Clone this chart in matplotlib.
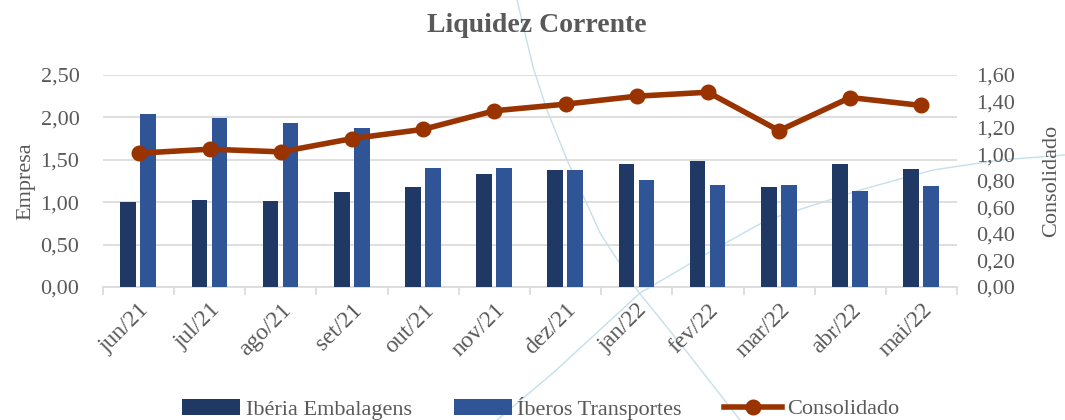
import matplotlib
matplotlib.use("Agg")
import matplotlib.pyplot as plt
import numpy as np
from matplotlib.ticker import FuncFormatter, MultipleLocator
from matplotlib.lines import Line2D

categories = ["jun/21", "jul/21", "ago/21", "set/21", "out/21", "nov/21",
              "dez/21", "jan/22", "fev/22", "mar/22", "abr/22", "mai/22"]
iberia = [1.00, 1.03, 1.01, 1.12, 1.18, 1.33, 1.38, 1.45, 1.49, 1.18, 1.45, 1.39]
iberos = [2.04, 1.99, 1.93, 1.87, 1.40, 1.40, 1.38, 1.26, 1.20, 1.20, 1.13, 1.19]
consolidado = [1.01, 1.04, 1.02, 1.12, 1.19, 1.33, 1.38, 1.44, 1.47, 1.18, 1.43, 1.37]

plt.rcParams['font.family'] = ['Liberation Serif', 'DejaVu Serif']
GRAY = "#595959"
C_IB = "#203864"
C_IBO = "#2F5597"
C_CON = "#993300"

fig = plt.figure(figsize=(10.65, 4.2), dpi=100)

# decorative background curves (slide artwork)
def deco(pts):
    pts = np.array(pts, dtype=float)
    t = np.linspace(0, 1, len(pts))
    tt = np.linspace(0, 1, 200)
    xs = np.interp(tt, t, pts[:, 0]); ys = np.interp(tt, t, pts[:, 1])
    fig.add_artist(Line2D(xs / 1065, 1 - ys / 420, transform=fig.transFigure,
                          color="#c5e0ea", lw=1.0, zorder=0))
deco([(517, 0), (533, 67), (547, 110), (567, 160), (600, 233), (637, 290), (683, 347), (740, 420)])
deco([(497, 420), (553, 373), (640, 293), (713, 250), (767, 220), (860, 190), (933, 170), (1000, 160), (1065, 155)])

ax = fig.add_axes([103 / 1065, 1 - 287 / 420, (957 - 103) / 1065, (287 - 75) / 420])
ax.patch.set_alpha(0)
x = np.arange(len(categories))
w = 0.22
b1 = ax.bar(x - 0.145, iberia, w, color=C_IB, label="Ibéria Embalagens", zorder=3)
b2 = ax.bar(x + 0.135, iberos, w, color=C_IBO, label="Íberos Transportes", zorder=3)
ax.set_xlim(-0.5, len(categories) - 0.5)
ax.set_ylim(0, 2.5)
ax.yaxis.set_major_locator(MultipleLocator(0.5))
fmt = FuncFormatter(lambda v, p: f"{v:.2f}".replace(".", ","))
ax.yaxis.set_major_formatter(fmt)
ax.grid(axis="y", color="#d9d9d9", lw=1.2, zorder=0)
for s in ["top", "left", "right"]:
    ax.spines[s].set_visible(False)
ax.spines["bottom"].set_color("#d9d9d9")
ax.spines["bottom"].set_linewidth(1.2)
ax.tick_params(axis="y", length=0, labelsize=16, labelcolor=GRAY, pad=17)
ax.set_xticks(x)
ax.set_xticklabels(categories, rotation=45, ha="right", rotation_mode="anchor",
                   fontsize=17, color=GRAY)
ax.tick_params(axis="x", length=0, pad=9)
ax.set_xticks(np.arange(-0.5, len(categories), 1), minor=True)
ax.tick_params(axis="x", which="minor", length=6, color="#d9d9d9", width=1.2)
ax.set_ylabel("Empresa", fontsize=16, color=GRAY, labelpad=4)

ax2 = ax.twinx()
ax2.set_ylim(0, 1.6)
ax2.yaxis.set_major_locator(MultipleLocator(0.2))
ax2.yaxis.set_major_formatter(fmt)
for s in ["top", "left", "right", "bottom"]:
    ax2.spines[s].set_visible(False)
ax2.tick_params(axis="y", length=0, labelsize=16, labelcolor=GRAY, pad=14)
l1, = ax2.plot(x, consolidado, color=C_CON, lw=4.0, marker="o", markersize=10.5,
               label="Consolidado", zorder=4)
ax2.set_ylabel("Consolidado", fontsize=16, color=GRAY, labelpad=19)

fig.text(537 / 1065, 1 - 25 / 420, "Liquidez Corrente", ha="center", va="center",
         fontsize=20, fontweight="bold", color=GRAY)

leg = fig.legend([b1, b2, l1], ["Ibéria Embalagens", "Íberos Transportes", "Consolidado"],
                 loc="center", bbox_to_anchor=(541 / 1065, 1 - 408 / 420), ncol=3,
                 frameon=False, prop={"family": "Liberation Serif", "size": 16},
                 handlelength=2.6, handleheight=0.7,
                 columnspacing=1.9, handletextpad=0.25, labelcolor=GRAY)

fig.savefig("out.png", dpi=100)
